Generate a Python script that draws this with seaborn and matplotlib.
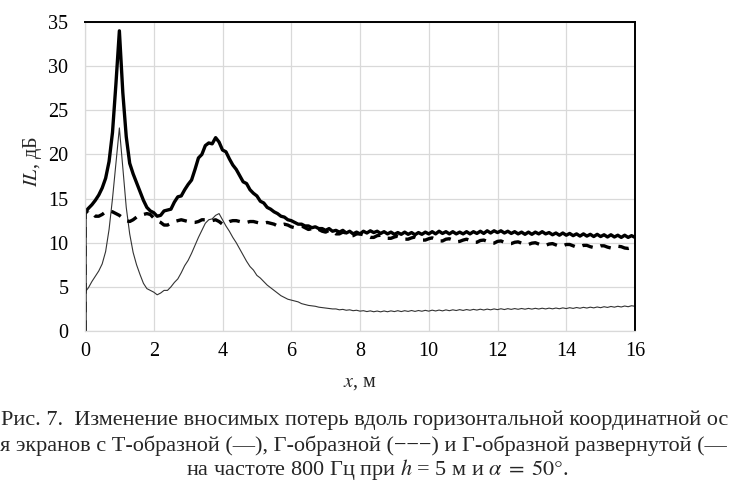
import numpy as np
import pandas as pd
import seaborn as sns
import matplotlib.pyplot as plt

# sampling positions along x, m (first point duplicates x=0 for the start from zero)
x_m = [0.0,
       0.0, 0.1, 0.2, 0.3, 0.4, 0.5, 0.6, 0.7, 0.8, 0.9,
       1.0, 1.1, 1.2, 1.3, 1.4, 1.5, 1.6, 1.7, 1.8, 1.9,
       2.0, 2.1, 2.2, 2.3, 2.4, 2.5, 2.6, 2.7, 2.8, 2.9,
       3.0, 3.1, 3.2, 3.3, 3.4, 3.5, 3.6, 3.7, 3.8, 3.9,
       4.0, 4.1, 4.2, 4.3, 4.4, 4.5, 4.6, 4.7, 4.8, 4.9,
       5.0, 5.1, 5.2, 5.3, 5.4, 5.5, 5.6, 5.7, 5.8, 5.9,
       6.0, 6.1, 6.2, 6.3, 6.4, 6.5, 6.6, 6.7, 6.8, 6.9,
       7.0, 7.1, 7.2, 7.3, 7.4, 7.5, 7.6, 7.7, 7.8, 7.9,
       8.0, 8.1, 8.2, 8.3, 8.4, 8.5, 8.6, 8.7, 8.8, 8.9,
       9.0, 9.1, 9.2, 9.3, 9.4, 9.5, 9.6, 9.7, 9.8, 9.9,
       10.0, 10.1, 10.2, 10.3, 10.4, 10.5, 10.6, 10.7, 10.8, 10.9,
       11.0, 11.1, 11.2, 11.3, 11.4, 11.5, 11.6, 11.7, 11.8, 11.9,
       12.0, 12.1, 12.2, 12.3, 12.4, 12.5, 12.6, 12.7, 12.8, 12.9,
       13.0, 13.1, 13.2, 13.3, 13.4, 13.5, 13.6, 13.7, 13.8, 13.9,
       14.0, 14.1, 14.2, 14.3, 14.4, 14.5, 14.6, 14.7, 14.8, 14.9,
       15.0, 15.1, 15.2, 15.3, 15.4, 15.5, 15.6, 15.7, 15.8, 15.9,
       16.0]

# T-shaped screen (thick solid)
il_t = [0.0,
        13.5, 13.9, 14.3, 14.8, 15.4, 16.2, 17.3, 19.2, 22.5, 28.0,
        34.0, 27.0, 22.0, 19.0, 17.8, 16.8, 15.8, 14.8, 14.0, 13.6,
        13.4, 13.0, 13.1, 13.6, 13.7, 13.8, 14.6, 15.2, 15.3, 16.0,
        16.6, 17.1, 18.3, 19.6, 20.0, 21.0, 21.3, 21.2, 21.9, 21.4,
        20.5, 20.3, 19.5, 18.8, 18.3, 17.6, 16.9, 16.7, 16.0, 15.6,
        15.3, 14.7, 14.5, 14.0, 13.8, 13.5, 13.3, 13.0, 12.9, 12.6,
        12.5, 12.3, 12.1, 12.1, 11.9, 11.9, 11.7, 11.8, 11.6, 11.6,
        11.4, 11.6, 11.3, 11.4, 11.2, 11.4, 11.1, 11.3, 11.0, 11.2,
        11.0, 11.3, 11.1, 11.35, 11.15, 11.3, 11.05, 11.25, 11.0, 11.2,
        10.95, 11.15, 10.95, 11.2, 10.95, 11.15, 10.9, 11.15, 10.95, 11.2,
        11.0, 11.25, 11.0, 11.3, 11.05, 11.25, 11.0, 11.25, 11.0, 11.2,
        11.0, 11.25, 11.0, 11.25, 11.05, 11.3, 11.05, 11.35, 11.1, 11.35,
        11.15, 11.35, 11.1, 11.3, 11.05, 11.25, 11.0, 11.2, 10.95, 11.2,
        10.95, 11.2, 11.0, 11.25, 11.0, 11.15, 10.9, 11.1, 10.85, 11.1,
        10.85, 11.05, 10.8, 11.0, 10.75, 11.0, 10.75, 10.95, 10.7, 10.95,
        10.7, 10.9, 10.65, 10.9, 10.65, 10.85, 10.6, 10.85, 10.6, 10.8,
        10.6]

# Г-shaped screen (thick dashed)
il_g = [0.0,
        13.3, 13.7, 13.5, 13.0, 13.0, 13.2, 13.5, 13.6, 13.5, 13.3,
        13.1, 12.8, 12.5, 12.4, 12.6, 12.9, 13.1, 13.2, 13.3, 13.2,
        12.8, 12.5, 12.3, 12.0, 12.0, 12.2, 12.4, 12.5, 12.6, 12.5,
        12.4, 12.3, 12.3, 12.4, 12.6, 12.6, 12.5, 12.5, 12.6, 12.4,
        12.1, 12.2, 12.4, 12.5, 12.5, 12.4, 12.3, 12.3, 12.4, 12.4,
        12.3, 12.2, 12.2, 12.3, 12.2, 12.1, 11.9, 12.0, 12.1, 12.0,
        11.8, 11.7, 11.8, 11.9, 11.7, 11.5, 11.6, 11.7, 11.5, 11.3,
        11.2, 11.4, 11.3, 11.0, 11.0, 11.2, 11.1, 10.8, 10.8, 11.0,
        11.0, 10.9, 10.75, 10.6, 10.6, 10.8, 10.85, 10.7, 10.5, 10.5,
        10.65, 10.75, 10.6, 10.4, 10.4, 10.55, 10.65, 10.5, 10.3, 10.3,
        10.45, 10.55, 10.4, 10.2, 10.2, 10.4, 10.45, 10.3, 10.1, 10.15,
        10.3, 10.4, 10.25, 10.05, 10.05, 10.25, 10.3, 10.15, 9.95, 9.95,
        10.15, 10.2, 10.05, 9.9, 9.9, 10.05, 10.1, 9.95, 9.8, 9.8,
        9.95, 10.0, 9.85, 9.7, 9.7, 9.85, 9.9, 9.75, 9.6, 9.65,
        9.8, 9.8, 9.65, 9.5, 9.55, 9.7, 9.7, 9.55, 9.45, 9.5,
        9.65, 9.65, 9.5, 9.4, 9.45, 9.6, 9.55, 9.4, 9.35, 9.45,
        9.55]

# Г-shaped unfolded screen (thin)
il_gu = [0.0,
         4.4, 4.9, 5.6, 6.2, 6.8, 7.6, 9.0, 11.5, 15.0, 19.0,
         23.0, 18.5, 14.0, 11.0, 8.9, 7.5, 6.4, 5.4, 4.8, 4.6,
         4.4, 4.1, 4.3, 4.6, 4.6, 5.0, 5.5, 5.9, 6.6, 7.4,
         8.0, 8.8, 9.7, 10.6, 11.4, 12.2, 12.6, 12.7, 13.1, 13.3,
         12.6, 11.9, 11.3, 10.6, 10.0, 9.3, 8.6, 7.9, 7.3, 6.9,
         6.3, 6.0, 5.6, 5.2, 4.9, 4.6, 4.3, 4.0, 3.8, 3.6,
         3.5, 3.4, 3.3, 3.1, 3.0, 2.9, 2.85, 2.8, 2.7, 2.65,
         2.6, 2.55, 2.5, 2.5, 2.4, 2.45, 2.35, 2.4, 2.3, 2.35,
         2.25, 2.3, 2.2, 2.28, 2.18, 2.26, 2.17, 2.27, 2.18, 2.28,
         2.2, 2.3, 2.2, 2.3, 2.22, 2.32, 2.22, 2.32, 2.24, 2.34,
         2.25, 2.36, 2.27, 2.37, 2.28, 2.39, 2.3, 2.4, 2.32, 2.42,
         2.33, 2.43, 2.35, 2.45, 2.37, 2.47, 2.38, 2.48, 2.4, 2.5,
         2.42, 2.52, 2.43, 2.53, 2.45, 2.54, 2.46, 2.55, 2.47, 2.56,
         2.48, 2.57, 2.49, 2.58, 2.5, 2.59, 2.51, 2.6, 2.52, 2.62,
         2.54, 2.64, 2.56, 2.66, 2.58, 2.68, 2.6, 2.7, 2.62, 2.72,
         2.64, 2.75, 2.67, 2.78, 2.7, 2.8, 2.72, 2.83, 2.75, 2.86,
         2.8]

x_ticks = [0, 2, 4, 6, 8, 10, 12, 14, 16]
y_ticks = [0, 5, 10, 15, 20, 25, 30, 35]

sns.set_theme(style="white")
plt.rcParams['font.family'] = ['Liberation Serif', 'DejaVu Serif']
plt.rcParams['mathtext.fontset'] = 'stix'

df = pd.DataFrame({"x": x_m, "t": il_t, "g": il_g, "gu": il_gu})

fig = plt.figure(figsize=(7.3, 4.86), dpi=100)
ax = fig.add_axes([85 / 730, 1 - 331 / 486, 550 / 730, 309 / 486])

sns.lineplot(data=df, x="x", y="gu", ax=ax, estimator=None, sort=False,
             color="#333333", linewidth=0.8)
sns.lineplot(data=df, x="x", y="g", ax=ax, estimator=None, sort=False,
             color="black", linewidth=2.4)
ax.lines[-1].set_dashes([3.2, 2.4])
sns.lineplot(data=df, x="x", y="t", ax=ax, estimator=None, sort=False,
             color="black", linewidth=2.4)

ax.set_xlim(0, 16)
ax.set_ylim(0, 35)
ax.set_xticks(x_ticks)
ax.set_yticks(y_ticks)
ax.grid(True, color="#d9d9d9", linewidth=0.9)
ax.set_axisbelow(True)
for side in ["top", "right"]:
    ax.spines[side].set_color("black")
    ax.spines[side].set_linewidth(1.4)
for side in ["left", "bottom"]:
    ax.spines[side].set_color("#d9d9d9")
    ax.spines[side].set_linewidth(0.9)
ax.tick_params(axis="both", length=0, labelsize=14.5, colors="black")
ax.tick_params(axis="x", pad=8)
ax.tick_params(axis="y", pad=12)
ax.set_xlabel("")
ax.set_ylabel("")

fig.text(33 / 730, 1 - 162 / 486, r"$\mathit{IL}$, дБ", rotation=90,
         ha="center", va="center", fontsize=14.5)
fig.text(360 / 730, 1 - 382 / 486, r"$\mathit{x}$, м",
         ha="center", va="center", fontsize=14.5)

cap = 16
fig.text(1 / 730, 1 - 420 / 486,
         "Рис. 7.  Изменение вносимых потерь вдоль горизонтальной координатной ос",
         ha="left", va="center", fontsize=cap)
fig.text(0, 1 - 446 / 486,
         "я экранов с Т-образной (—), Г-образной (−−−) и Г-образной развернутой (—",
         ha="left", va="center", fontsize=cap)
fig.text(377 / 730, 1 - 469 / 486,
         r"на частоте 800 Гц при $h$ = 5 м и $\alpha\;=\;50°$.",
         ha="center", va="center", fontsize=cap)

fig.savefig("out.png", dpi=100)
